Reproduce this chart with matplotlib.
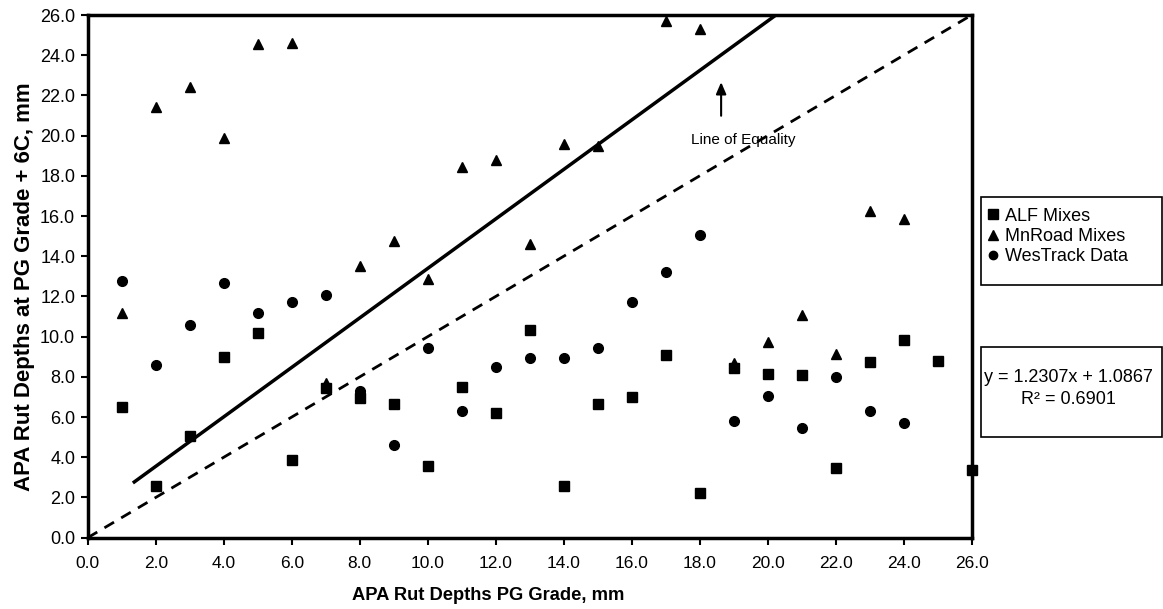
#!/usr/bin/env python3
"""APA rut depths: PG grade vs PG grade + 6C, with trendline and line of equality."""

import matplotlib

matplotlib.use("Agg")
import matplotlib.pyplot as plt
from matplotlib.lines import Line2D
from matplotlib.patches import Rectangle
from matplotlib.ticker import FormatStrFormatter, MultipleLocator

plt.rcParams["font.family"] = ["Liberation Sans", "DejaVu Sans"]

# ALF Mixes (squares)
alf_x = [1, 2, 3, 4, 5, 6, 7, 8, 9, 10, 11, 12, 13, 14, 15, 16, 17, 18, 19, 20, 21, 22, 23, 24, 25, 26]
alf_y = [6.52, 2.59, 5.06, 8.97, 10.17, 3.87, 7.43, 6.93, 6.65, 3.58, 7.48, 6.19, 10.33,
         2.59, 6.64, 7.01, 9.07, 2.24, 8.43, 8.13, 8.09, 3.45, 8.73, 9.84, 8.81, 3.37]

# MnRoad Mixes (triangles)
mnroad_x = [1, 2, 3, 4, 5, 6, 7, 8, 9, 10, 11, 12, 13, 14, 15, 17, 18, 19, 20, 21, 22, 23, 24]
mnroad_y = [11.16, 21.4, 22.4, 19.87, 24.56, 24.6, 7.71, 13.53, 14.75, 12.87, 18.43, 18.78,
            14.6, 19.59, 19.49, 25.7, 25.3, 8.71, 9.75, 11.1, 9.14, 16.27, 15.84]

# WesTrack Data (circles)
wes_x = [1, 2, 3, 4, 5, 6, 7, 8, 9, 10, 11, 12, 13, 14, 15, 16, 17, 18, 19, 20, 21, 22, 23, 24]
wes_y = [12.77, 8.59, 10.58, 12.69, 11.16, 11.74, 12.07, 7.3, 4.63, 9.42, 6.3, 8.49, 8.92,
         8.92, 9.42, 11.71, 13.2, 15.04, 5.81, 7.05, 5.44, 8.01, 6.3, 5.69]

# trendline as printed on the chart
SLOPE = 1.2307
INTERCEPT = 1.0867
R2 = 0.6901
trend_x = [1.37, 26.0]
equality = [0.0, 26.0]

W, H = 1163, 609


def fx(px):
    return px / W


def fy(py):
    return 1 - py / H


fig = plt.figure(figsize=(W / 100, H / 100), dpi=100)
ax = fig.add_axes([fx(87.7), fy(537.7), (971.7 - 87.7) / W, (537.7 - 15) / H])

ax.plot(equality, equality, color="black", lw=2.0, ls=(0, (4, 3)), zorder=2)
ax.plot(trend_x, [SLOPE * x + INTERCEPT for x in trend_x], color="black", lw=2.5, zorder=2)

ax.plot(alf_x, alf_y, ls="none", marker="s", ms=7.5, color="black", clip_on=False, zorder=4)
ax.plot(mnroad_x, mnroad_y, ls="none", marker="^", ms=7.5, color="black", clip_on=False, zorder=4)
ax.plot(wes_x, wes_y, ls="none", marker="o", ms=7, color="black", clip_on=False, zorder=4)

ax.annotate("", xy=(18.63, 22.8), xytext=(18.63, 20.85),
            arrowprops=dict(arrowstyle="-|>,head_length=0.7,head_width=0.3", color="black", lw=1.5))
ax.text(19.28, 19.8, "Line of Equality", ha="center", va="center", fontsize=11)

ax.set_xlim(0, 26)
ax.set_ylim(0, 26)
ax.xaxis.set_major_locator(MultipleLocator(2))
ax.yaxis.set_major_locator(MultipleLocator(2))
ax.xaxis.set_major_formatter(FormatStrFormatter("%.1f"))
ax.yaxis.set_major_formatter(FormatStrFormatter("%.1f"))
ax.tick_params(direction="out", length=5, width=1.5)
ax.tick_params(axis="x", labelsize=12.5, pad=8)
ax.tick_params(axis="y", labelsize=13, pad=4)
for side in ax.spines.values():
    side.set_linewidth(2.5)

ax.set_xlabel("APA Rut Depths PG Grade, mm", fontsize=13.2, fontweight="bold")
ax.xaxis.set_label_coords((488 - 87.7) / (971.7 - 87.7), (537.7 - 587) / (537.7 - 15))
ax.set_ylabel("APA Rut Depths at PG Grade + 6C, mm", fontsize=16, fontweight="bold")
ax.yaxis.set_label_coords((35 - 87.7) / (971.7 - 87.7), (537.7 - 287) / (537.7 - 15))

# legend box
fig.patches.append(Rectangle((fx(980.7), fy(285)), (1161.5 - 980.7) / W, (285 - 196.7) / H,
                             transform=fig.transFigure, fill=False, edgecolor="black", lw=1.2))
handles = [
    Line2D([], [], ls="none", marker="s", ms=6.5, color="black"),
    Line2D([], [], ls="none", marker="^", ms=6.5, color="black"),
    Line2D([], [], ls="none", marker="o", ms=6, color="black"),
]
fig.legend(handles, ["ALF Mixes", "MnRoad Mixes", "WesTrack Data"], loc="upper left",
           bbox_to_anchor=(fx(975), fy(195)), frameon=False, fontsize=13,
           handlelength=0.6, handletextpad=0.35, labelspacing=0.18, borderpad=0.2)

# equation box
fig.patches.append(Rectangle((fx(980.7), fy(436.7)), (1161.5 - 980.7) / W, 90 / H,
                             transform=fig.transFigure, fill=False, edgecolor="black", lw=1.2))
fig.text(fx(1068), fy(377), f"y = {SLOPE}x + {INTERCEPT}", ha="center", va="center", fontsize=13)
fig.text(fx(1068), fy(399), f"R\u00b2 = {R2}", ha="center", va="center", fontsize=13)

fig.savefig("out.png", dpi=100)
